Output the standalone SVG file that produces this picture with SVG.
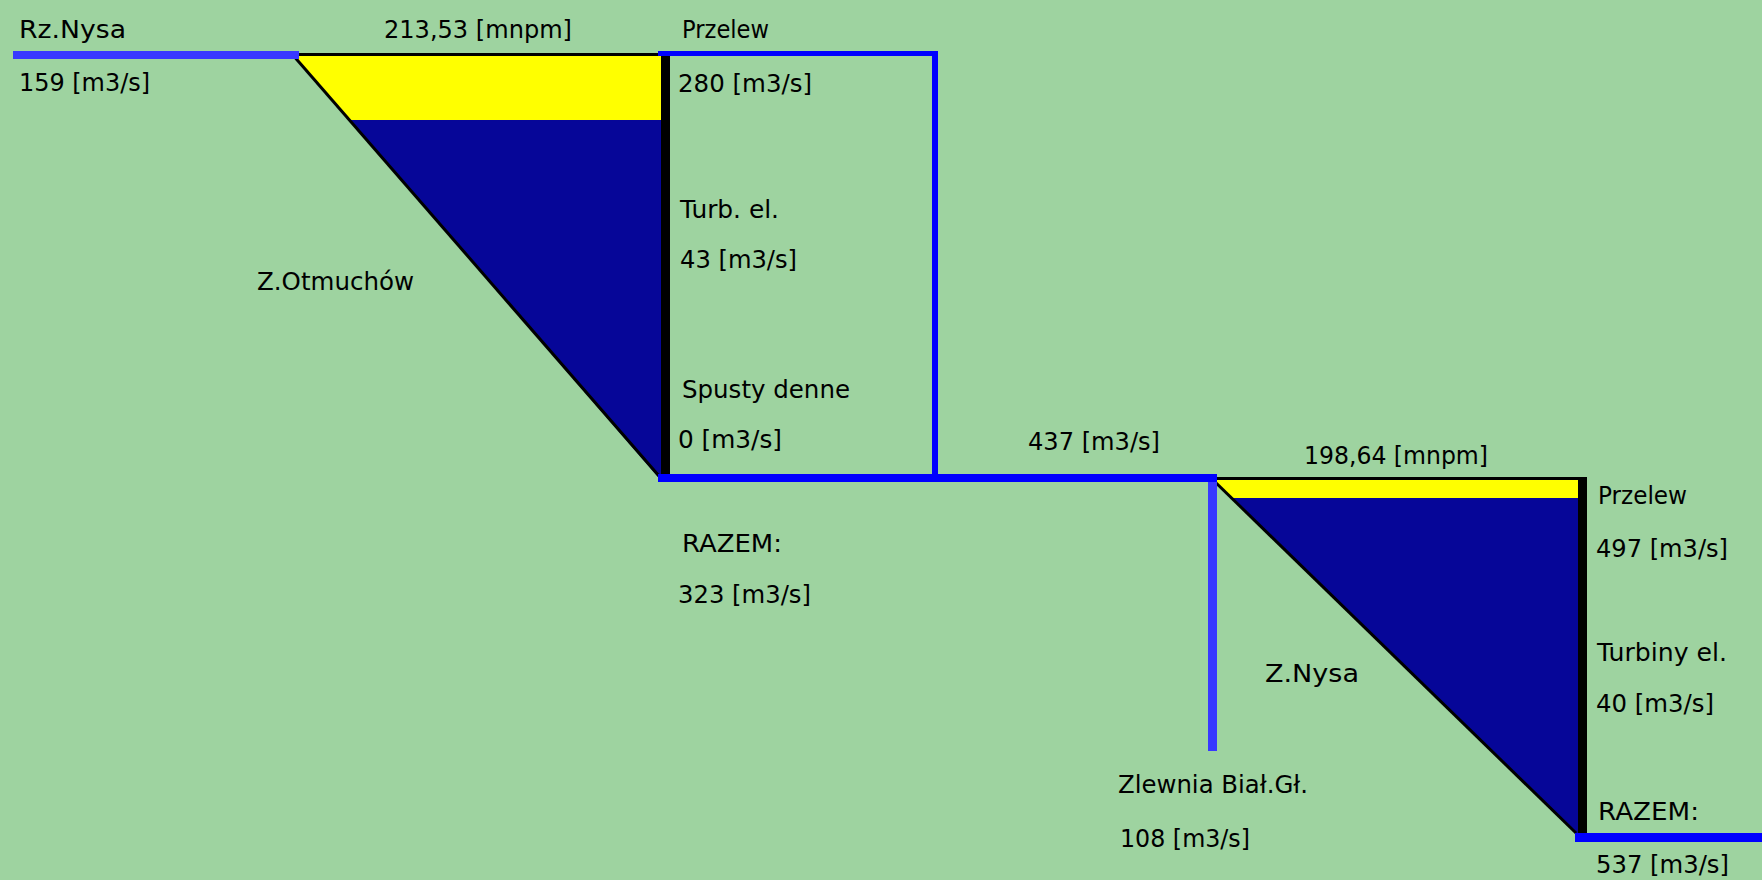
<svg xmlns="http://www.w3.org/2000/svg" width="1762" height="880" viewBox="0 0 1762 880">
  <style>
    .bg { fill: #9ED3A0; }
    .lbl { font-family: "DejaVu Sans", "Liberation Sans", sans-serif; font-size: 24px; fill: #000000; }
    .surf { fill: #FFFF00; }
    .water { fill: #060698; }
    .dam { fill: #000000; }
    .bank { stroke: #000000; stroke-width: 3; fill: none; }
    .river { stroke: #3838FF; fill: none; }
    .flow { stroke: #0000FF; fill: none; }
  </style>

  <rect class="bg" x="0" y="0" width="1762" height="880"/>

  <!-- Reservoir: Otmuchów -->
  <g id="reservoir-otmuchow">
    <polygon class="surf" points="294,56 661,56 661,120 350,120"/>
    <polygon class="water" points="350,120 661,120 661,477 658,477"/>
    <rect class="dam" x="292" y="53" width="369" height="3"/>
    <line class="bank" x1="292" y1="54" x2="659" y2="476"/>
    <rect class="dam" x="661" y="53" width="9" height="425"/>
    <text class="lbl" x="384" y="38" textLength="188" lengthAdjust="spacingAndGlyphs">213,53 [mnpm]</text>
    <text class="lbl" x="257" y="290" textLength="157" lengthAdjust="spacingAndGlyphs">Z.Otmuchów</text>
  </g>

  <!-- Reservoir: Nysa -->
  <g id="reservoir-nysa">
    <polygon class="surf" points="1213,480 1578,480 1578,498 1232,498"/>
    <polygon class="water" points="1232,498 1578,498 1578,834 1576,834"/>
    <rect class="dam" x="1210" y="477" width="369" height="3"/>
    <line class="bank" x1="1211" y1="478" x2="1576" y2="833"/>
    <rect class="dam" x="1578" y="477" width="9" height="357"/>
    <text class="lbl" x="1304" y="464" textLength="184" lengthAdjust="spacingAndGlyphs">198,64 [mnpm]</text>
    <text class="lbl" x="1265" y="682" textLength="94" lengthAdjust="spacingAndGlyphs">Z.Nysa</text>
  </g>

  <!-- Flow lines -->
  <g id="connectors">
    <path class="river" stroke-width="8" d="M13 55 H299"/>
    <path class="flow" stroke-width="5" d="M658 53.5 H938"/>
    <path class="flow" stroke-width="6" d="M935 51 V482"/>
    <path class="flow" stroke-width="8" d="M658 478 H1217"/>
    <path class="river" stroke-width="9" d="M1212.5 482 V751"/>
    <path class="flow" stroke-width="9" d="M1575 837.5 H1762"/>
  </g>

  <!-- Inflow: Rz. Nysa -->
  <g id="inflow-nysa">
    <text class="lbl" x="19" y="38" textLength="107" lengthAdjust="spacingAndGlyphs">Rz.Nysa</text>
    <text class="lbl" x="19" y="91" textLength="131" lengthAdjust="spacingAndGlyphs">159 [m3/s]</text>
  </g>

  <!-- Outflows: Otmuchów -->
  <g id="outflow-otmuchow">
    <text class="lbl" x="682" y="38" textLength="87" lengthAdjust="spacingAndGlyphs">Przelew</text>
    <text class="lbl" x="678" y="92" textLength="134" lengthAdjust="spacingAndGlyphs">280 [m3/s]</text>
    <text class="lbl" x="680" y="218" textLength="99" lengthAdjust="spacingAndGlyphs">Turb. el.</text>
    <text class="lbl" x="680" y="268" textLength="117" lengthAdjust="spacingAndGlyphs">43 [m3/s]</text>
    <text class="lbl" x="682" y="398" textLength="168" lengthAdjust="spacingAndGlyphs">Spusty denne</text>
    <text class="lbl" x="678" y="448" textLength="104" lengthAdjust="spacingAndGlyphs">0 [m3/s]</text>
    <text class="lbl" x="682" y="552" textLength="100" lengthAdjust="spacingAndGlyphs">RAZEM:</text>
    <text class="lbl" x="678" y="603" textLength="133" lengthAdjust="spacingAndGlyphs">323 [m3/s]</text>
  </g>

  <!-- Combined flow to Nysa -->
  <g id="flow-total">
    <text class="lbl" x="1028" y="450" textLength="132" lengthAdjust="spacingAndGlyphs">437 [m3/s]</text>
  </g>

  <!-- Tributary catchment -->
  <g id="catchment-bialska">
    <text class="lbl" x="1118" y="793" textLength="190" lengthAdjust="spacingAndGlyphs">Zlewnia Biał.Gł.</text>
    <text class="lbl" x="1120" y="847" textLength="130" lengthAdjust="spacingAndGlyphs">108 [m3/s]</text>
  </g>

  <!-- Outflows: Nysa -->
  <g id="outflow-nysa">
    <text class="lbl" x="1598" y="504" textLength="89" lengthAdjust="spacingAndGlyphs">Przelew</text>
    <text class="lbl" x="1596" y="557" textLength="132" lengthAdjust="spacingAndGlyphs">497 [m3/s]</text>
    <text class="lbl" x="1597" y="661" textLength="130" lengthAdjust="spacingAndGlyphs">Turbiny el.</text>
    <text class="lbl" x="1596" y="712" textLength="118" lengthAdjust="spacingAndGlyphs">40 [m3/s]</text>
    <text class="lbl" x="1598" y="820" textLength="101" lengthAdjust="spacingAndGlyphs">RAZEM:</text>
    <text class="lbl" x="1596" y="873" textLength="133" lengthAdjust="spacingAndGlyphs">537 [m3/s]</text>
  </g>
</svg>
